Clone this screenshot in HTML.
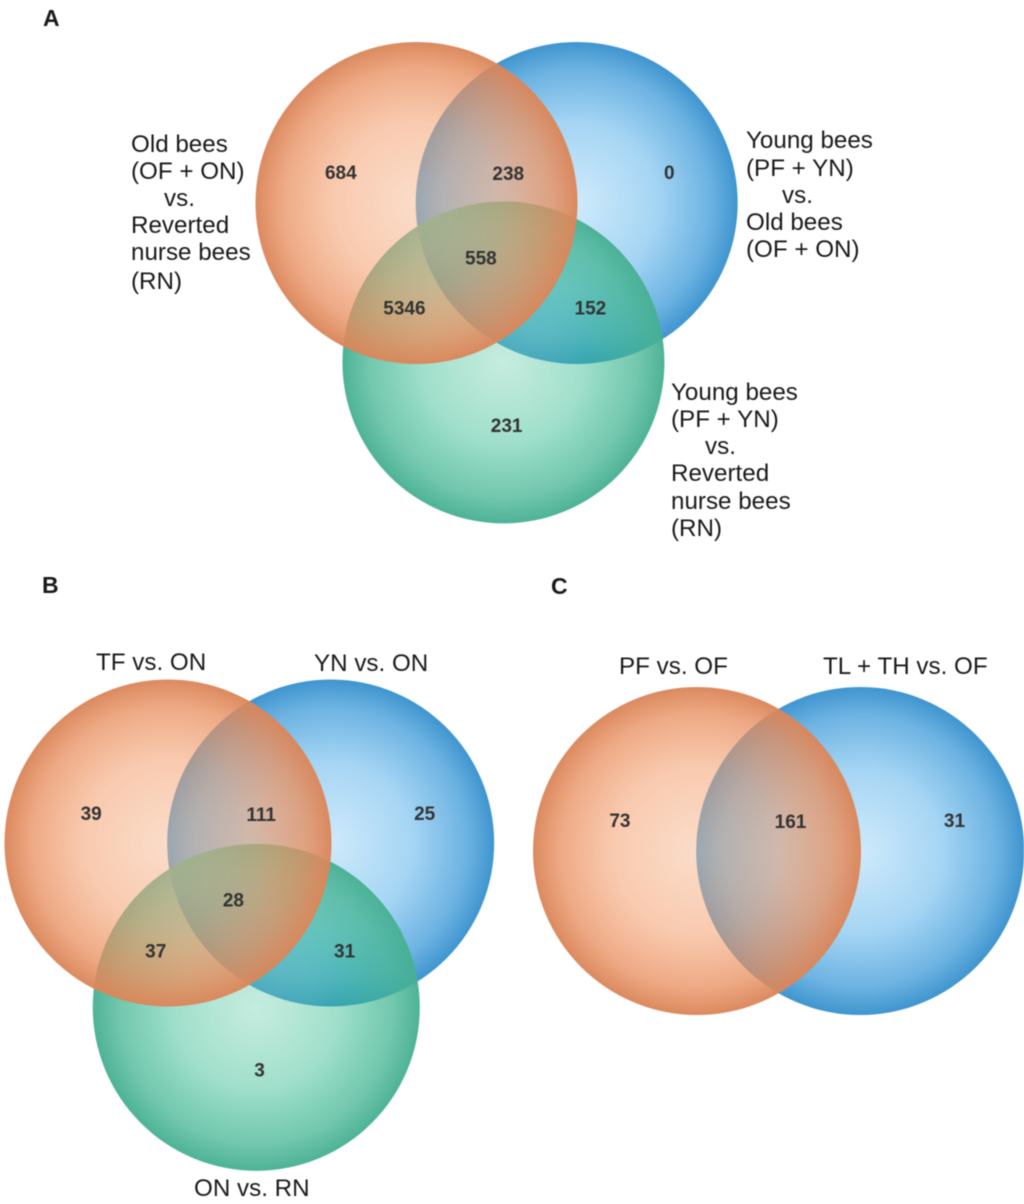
<!DOCTYPE html>
<html lang="en">
<head>
<meta charset="utf-8">
<title>Venn diagrams A, B and C</title>
<style>
  html, body { margin: 0; padding: 0; background: #fff; width: 1024px; height: 1204px; overflow: hidden; }
  svg { display: block; filter: blur(0.45px); }
  .panel-letter { font: bold 23px "Liberation Sans", sans-serif; fill: #1a1a1a; }
  .set-label { font: 24.2px "Liberation Sans", sans-serif; fill: #1a1a1a; }
  .count { font: bold 19px "Liberation Sans", sans-serif; fill: #333; text-anchor: middle; dominant-baseline: central; }
</style>
</head>
<body>
<svg id="figure" xmlns="http://www.w3.org/2000/svg" width="1024" height="1204" viewBox="0 0 1024 1204">
  <defs>
    <radialGradient id="orangeFill">
      <stop offset="0" stop-color="rgb(246,186,148)" stop-opacity="0.5"/>
      <stop offset="0.5" stop-color="rgb(244,160,111)" stop-opacity="0.55"/>
      <stop offset="0.83" stop-color="rgb(232,141,92)" stop-opacity="0.75"/>
      <stop offset="1" stop-color="rgb(218,134,90)" stop-opacity="0.97"/>
    </radialGradient>
    <radialGradient id="blueFill">
      <stop offset="0" stop-color="#cfeafb"/>
      <stop offset="0.5" stop-color="#a5d5f4"/>
      <stop offset="0.83" stop-color="#6db3e2"/>
      <stop offset="1" stop-color="#3f95cf"/>
    </radialGradient>
    <radialGradient id="greenFill">
      <stop offset="0" stop-color="rgb(110,207,175)" stop-opacity="0.4"/>
      <stop offset="0.5" stop-color="rgb(44,184,140)" stop-opacity="0.45"/>
      <stop offset="0.83" stop-color="rgb(69,181,147)" stop-opacity="0.75"/>
      <stop offset="1" stop-color="rgb(72,176,147)" stop-opacity="0.97"/>
    </radialGradient>
  </defs>

  <g id="panel-a"></g>
  <g id="panel-b"></g>
  <g id="panel-c"></g>

  <text class="panel-letter" x="43" y="26">A</text>
  <text class="panel-letter" x="42" y="593">B</text>
  <text class="panel-letter" x="551" y="594">C</text>

  <g>
    <text class="set-label" x="131" y="152">Old bees</text>
    <text class="set-label" x="131" y="179">(OF + ON)</text>
    <text class="set-label" x="164" y="206">vs.</text>
    <text class="set-label" x="131" y="233">Reverted</text>
    <text class="set-label" x="131" y="260">nurse bees</text>
    <text class="set-label" x="131" y="289">(RN)</text>
  </g>
  <g>
    <text class="set-label" x="746" y="148">Young bees</text>
    <text class="set-label" x="746" y="176">(PF + YN)</text>
    <text class="set-label" x="782" y="203">vs.</text>
    <text class="set-label" x="746" y="230">Old bees</text>
    <text class="set-label" x="746" y="257">(OF + ON)</text>
  </g>
  <g>
    <text class="set-label" x="671" y="400">Young bees</text>
    <text class="set-label" x="671" y="427">(PF + YN)</text>
    <text class="set-label" x="705" y="454">vs.</text>
    <text class="set-label" x="671" y="481">Reverted</text>
    <text class="set-label" x="671" y="509">nurse bees</text>
    <text class="set-label" x="671" y="536">(RN)</text>
  </g>

  <text class="set-label" x="96" y="670">TF vs. ON</text>
  <text class="set-label" x="314" y="671">YN vs. ON</text>
  <text class="set-label" x="194" y="1196">ON vs. RN</text>
  <text class="set-label" x="619" y="674">PF vs. OF</text>
  <text class="set-label" x="823" y="674">TL + TH vs. OF</text>
</svg>

<script>
  // Printed region counts, one array per panel.
  const regionNames3 = ["first-only", "first-second", "second-only", "all-three", "first-third", "second-third", "third-only"];
  const regionNames2 = ["first-only", "first-second", "second-only"];
  const countsA = [684, 238, 0, 558, 5346, 152, 231];
  const countsB = [39, 111, 25, 28, 37, 31, 3];
  const countsC = [73, 161, 31];

  const SVG_NS = "http://www.w3.org/2000/svg";

  function drawCircle(parent, cx, cy, r, fill, name) {
    const c = document.createElementNS(SVG_NS, "circle");
    c.setAttribute("cx", cx);
    c.setAttribute("cy", cy);
    c.setAttribute("r", r);
    c.setAttribute("fill", "url(#" + fill + ")");
    
    
    parent.appendChild(c);
  }

  function drawCount(parent, x, y, value, name) {
    const t = document.createElementNS(SVG_NS, "text");
    t.setAttribute("class", "count");
    t.setAttribute("x", x);
    t.setAttribute("y", y);
    t.textContent = String(value);
    
    
    parent.appendChild(t);
  }

  // Venn geometry: everything is relative to the first circle's centre, in radii.
  function drawVenn(id, cx, cy, r, thirdDy, labelDy, names, counts) {
    const g = document.getElementById(id);
    drawCircle(g, cx + 0.995 * r, cy, r, "blueFill", id + "-second-set");
    if (counts.length === 7) {
      drawCircle(g, cx + 0.54 * r, cy + thirdDy * r, r, "greenFill", id + "-third-set");
    }
    drawCircle(g, cx, cy, r, "orangeFill", id + "-first-set");

    const col = [-0.47, 0.57, 1.57, 0.40, -0.075, 1.08, 0.56];
    const row = [-0.185, -0.18, -0.185, 0.345, 0.655, 0.655, 1.385];
    counts.forEach(function (value, i) {
      drawCount(g, cx + col[i] * r, cy + row[i] * r + labelDy, value, id + "-count-" + names[i]);
    });
  }

  drawVenn("panel-a", 416.5, 203, 161, 0.99, 0.5, regionNames3, countsA);
  drawVenn("panel-b", 168, 843, 163.5, 1.005, 1.8, regionNames3, countsB);
  drawVenn("panel-c", 697, 851, 164, 0, 0.8, regionNames2, countsC);
</script>
</body>
</html>
